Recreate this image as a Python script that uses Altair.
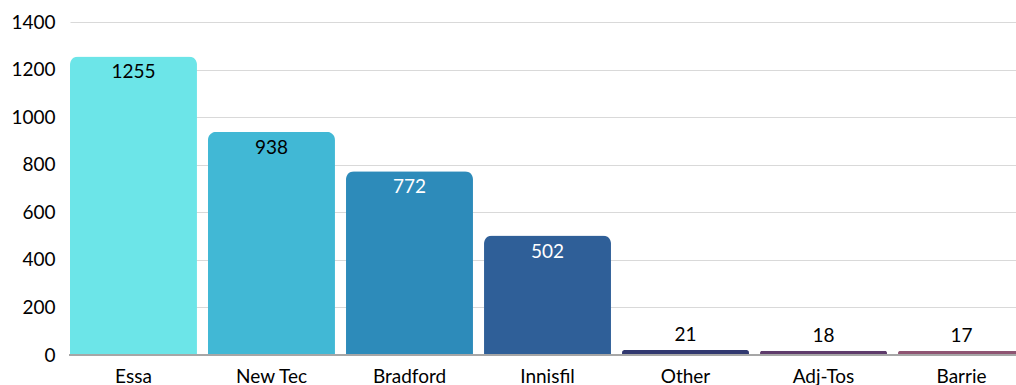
import altair as alt
import pandas as pd

categories = ["Essa", "New Tec", "Bradford", "Innisfil", "Other", "Adj-Tos", "Barrie"]
values = [1255, 938, 772, 502, 21, 18, 17]
bar_colors = ["#6ce5e8", "#41b8d5", "#2d8bba", "#2f5f98", "#31386f", "#5e3b6b", "#8e5472"]
label_colors = ["#000000", "#000000", "#ffffff", "#ffffff", "#000000", "#000000", "#000000"]

df = pd.DataFrame({"cat": categories, "val": values, "bc": bar_colors, "lc": label_colors})

FONT = "Lato"
W = 947
H = 333

x = alt.X("cat:N", sort=categories,
          scale=alt.Scale(range=[1, 956], paddingInner=0.08, paddingOuter=0),
          axis=alt.Axis(title=None, labelAngle=0, labelFontSize=19, labelFont=FONT,
                        labelColor="#000000", ticks=False, domain=False, labelPadding=12))
y = alt.Y("val:Q", scale=alt.Scale(domain=[0, 1400], nice=False),
          axis=alt.Axis(title=None, values=[0, 200, 400, 600, 800, 1000, 1200, 1400],
                        format="d", labelFontSize=19, labelFont=FONT, labelColor="#000000",
                        ticks=False, domain=False, gridColor="#d9d9d9", labelPadding=14))

base = alt.Chart(df).encode(x=x)

bars = base.mark_bar(cornerRadiusTopLeft=8, cornerRadiusTopRight=8).encode(
    y=y, fill=alt.Fill("bc:N", scale=None, legend=None))

baseline = alt.Chart(df).mark_rule(color="#a6a6a6", strokeWidth=1).encode(
    y=alt.datum(0), x=alt.value(0), x2=alt.value(W))

inside = base.transform_filter("datum.val > 100").mark_text(
    baseline="top", dy=7, fontSize=19, font=FONT).encode(
    y="val:Q", text="val:Q", color=alt.Color("lc:N", scale=None))

above = base.transform_filter("datum.val <= 100").mark_text(
    baseline="bottom", dy=-5, fontSize=19, font=FONT).encode(
    y="val:Q", text="val:Q", color=alt.Color("lc:N", scale=None))

chart = alt.layer(bars, baseline, inside, above).properties(
    width=W, height=H,
    autosize=alt.AutoSizeParams(type="none"),
    padding={"left": 69, "top": 22, "right": 0, "bottom": 30},
    background="#ffffff",
).configure_view(stroke=None)

chart.save("out.html", embed_options={"renderer": "svg", "actions": False})
